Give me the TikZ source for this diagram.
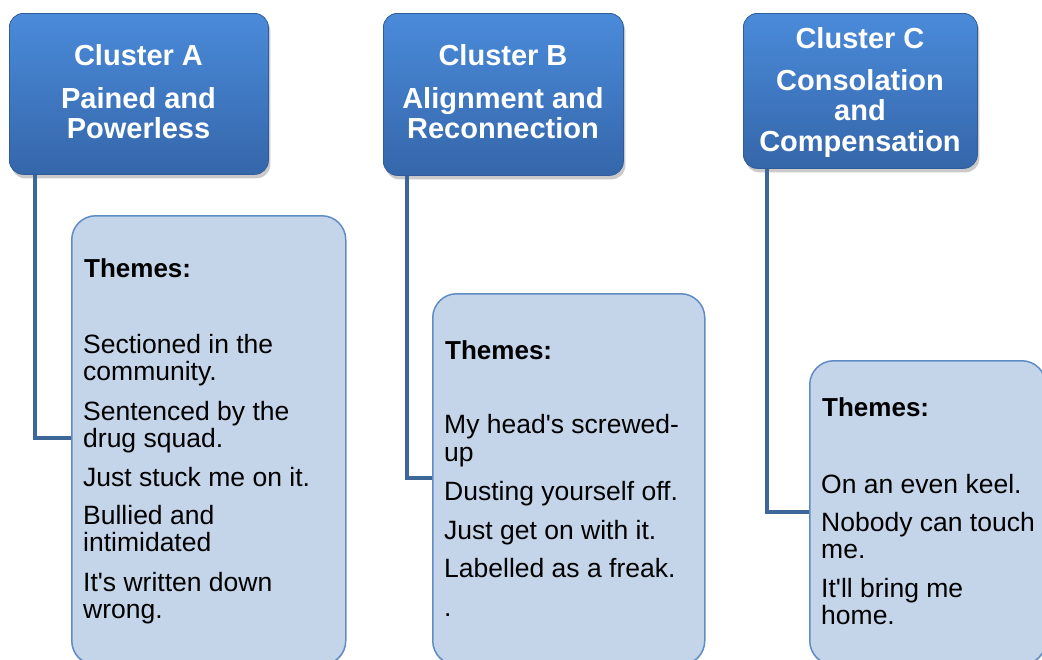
\documentclass[tikz,border=0pt]{standalone}
\usepackage{fontspec}
\setmainfont{Liberation Sans}[Ligatures=TeXOff]
\usetikzlibrary{shadows}
\definecolor{hdtop}{RGB}{74,139,218}
\definecolor{hdbot}{RGB}{53,102,170}
\definecolor{hdedge}{RGB}{48,92,155}
\definecolor{conncol}{RGB}{62,103,153}
\definecolor{boxfill}{RGB}{196,213,234}
\definecolor{boxedge}{RGB}{95,140,196}
\tikzset{
 header/.style={rectangle, rounded corners=14pt, top color=hdtop, bottom color=hdbot, draw=hdedge, line width=0.8pt, anchor=north west, inner sep=0pt,
   drop shadow={shadow xshift=2pt, shadow yshift=-4pt, opacity=0.35, fill=black!60}},
 hdtext/.style={text=white, font=\fontsize{29}{30}\selectfont\bfseries, anchor=base, inner sep=0pt},
 themebox/.style={rectangle, rounded corners=24pt, fill=boxfill, draw=boxedge, line width=1.5pt, anchor=north west, inner sep=0pt,
   drop shadow={shadow xshift=0pt, shadow yshift=-2pt, opacity=0.2, fill=black!50}},
 ghostbox/.style={rectangle, anchor=north west, inner sep=0pt},
 body/.style={font=\fontsize{26.5}{27}\selectfont, anchor=base west, inner sep=0pt, text=black},
 bodyb/.style={body, font=\fontsize{26}{27}\selectfont\bfseries},
 conn/.style={draw=conncol, line width=4pt},
}
\begin{document}
\begin{tikzpicture}[x=1pt,y=-1pt]
\useasboundingbox (0,0) rectangle (1042,659);
\clip (0,0) rectangle (1042,659);
% headers
\node[header, minimum width=259pt, minimum height=161pt] (hA) at (9,13) {};
\node[header, minimum width=240pt, minimum height=162pt] (hB) at (383,13) {};
\node[header, minimum width=234pt, minimum height=155pt] (hC) at (743,13) {};
% connectors
\coordinate (jA) at (0,438);
\coordinate (jB) at (0,478);
\coordinate (jC) at (0,512);
\node[ghostbox, minimum width=274pt, minimum height=449pt] (tA) at (71,215) {};
\node[ghostbox, minimum width=272pt, minimum height=371pt] (tB) at (432,293) {};
\node[ghostbox, minimum width=236pt, minimum height=304pt] (tC) at (809,360) {};
\draw[conn] ([xshift=26pt]hA.south west) |- (tA.west |- jA);
\draw[conn] ([xshift=24pt]hB.south west) |- (tB.west |- jB);
\draw[conn] ([xshift=24pt]hC.south west) |- (tC.west |- jC);
% theme boxes
\node[themebox, minimum width=274pt, minimum height=449pt] (bA) at (71,215) {};
\node[themebox, minimum width=272pt, minimum height=371pt] (bB) at (432,293) {};
\node[themebox, minimum width=236pt, minimum height=304pt] (bC) at (809,360) {};
% header texts
\node[hdtext] (hA1) at (138.5,65) {Cluster A};
\node[hdtext] (hA2) at (138.5,108) {Pained and};
\node[hdtext] (hA3) at (138.5,138) {Powerless};
\node[hdtext] (hB1) at (503,65) {Cluster B};
\node[hdtext] (hB2) at (503,108) {Alignment and};
\node[hdtext] (hB3) at (503,138) {Reconnection};
\node[hdtext] (hC1) at (860,48) {Cluster C};
\node[hdtext] (hC2) at (860,90) {Consolation};
\node[hdtext] (hC3) at (860,120) {and};
\node[hdtext] (hC4) at (860,151) {Compensation};
% box texts
\node[bodyb] (thA) at (84,277) {Themes:};
\foreach \txt/\yy [count=\i] in {Sectioned in the/353, community./380, Sentenced by the/420, drug squad./447, Just stuck me on it./486, Bullied and/524, intimidated/551, It's written down/591, wrong./618}
  \node[body] (a\i) at (83,\yy) {\txt};
\node[bodyb] (thB) at (445,359) {Themes:};
\foreach \txt/\yy [count=\i] in {My head's screwed-/433, up/461, Dusting yourself off./500, Just get on with it./539, Labelled as a freak./577, ./616}
  \node[body] (b\i) at (444,\yy) {\txt};
\node[bodyb] (thC) at (822,416) {Themes:};
\foreach \txt/\yy [count=\i] in {On an even keel./493, Nobody can touch/531, me./558, It'll bring me/597, home./624}
  \node[body] (c\i) at (821,\yy) {\txt};
\end{tikzpicture}
\end{document}
